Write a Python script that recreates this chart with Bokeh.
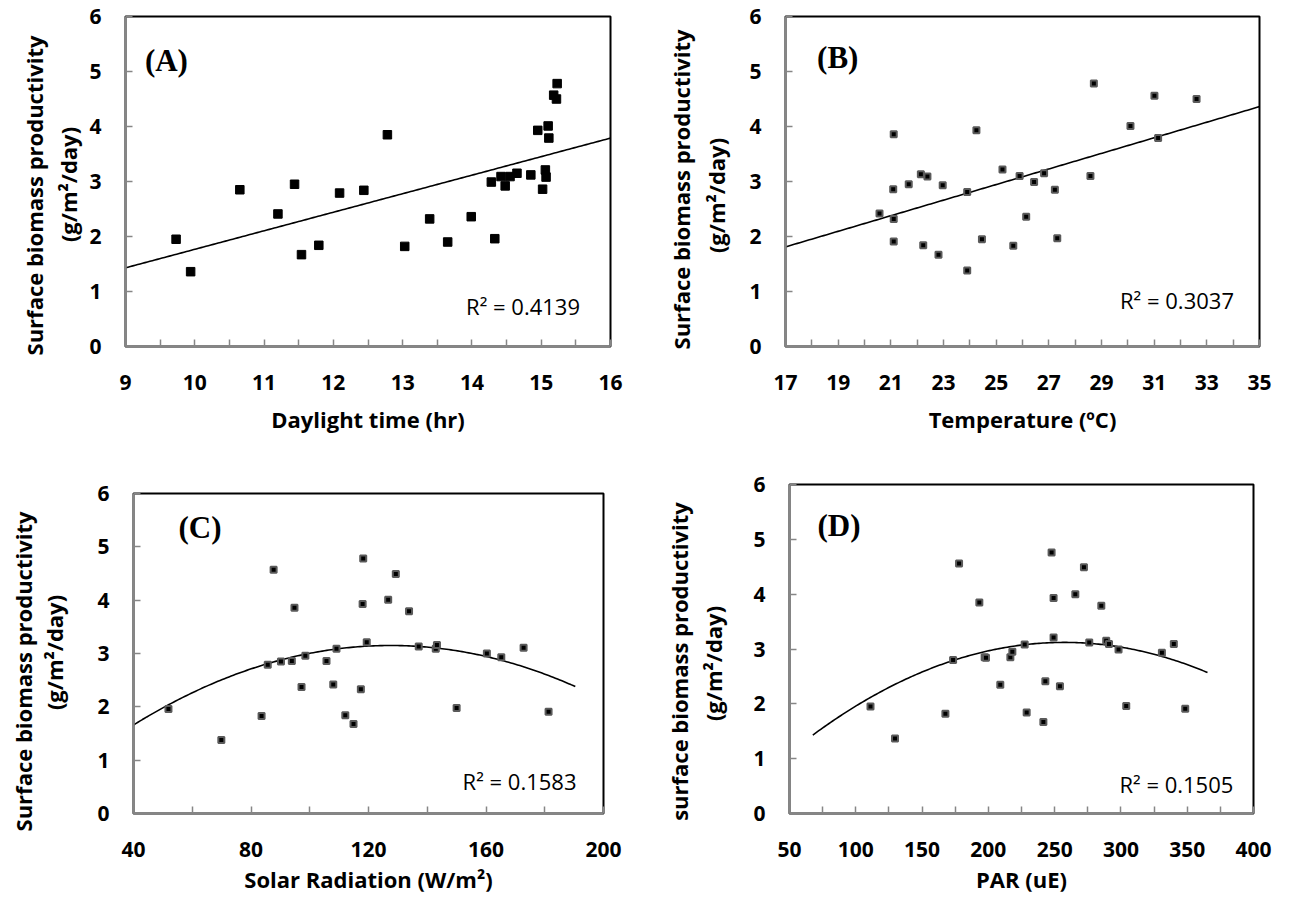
import numpy as np
from bokeh.plotting import figure
from bokeh.models import FixedTicker, Label
from bokeh.layouts import column, row
from bokeh.core.properties import value
from bokeh.embed import file_html
from bokeh.resources import INLINE

# ---------------- data ----------------
daylight_hr = [9.73, 9.94, 10.65, 11.20, 11.44, 11.54, 11.79, 12.09, 12.44, 12.78,
               13.03, 13.39, 13.65, 13.99, 14.28, 14.33, 14.42, 14.48, 14.55, 14.65,
               14.85, 14.95, 15.02, 15.06, 15.07, 15.10, 15.11, 15.18, 15.22, 15.23]
prod_a = [1.95, 1.36, 2.85, 2.41, 2.95, 1.67, 1.84, 2.79, 2.84, 3.85,
          1.82, 2.32, 1.90, 2.36, 2.99, 1.96, 3.09, 2.92, 3.09, 3.15,
          3.12, 3.93, 2.86, 3.21, 3.08, 4.01, 3.79, 4.57, 4.50, 4.78]

temperature_c = [20.57, 21.11, 21.09, 21.11, 21.11, 21.68, 22.14, 22.39, 22.23, 22.81,
                 22.97, 23.90, 23.90, 24.25, 24.46, 25.24, 25.65, 25.89, 26.14, 26.44,
                 26.82, 27.23, 27.32, 28.58, 28.71, 30.10, 31.01, 31.15, 32.61]
prod_b = [2.42, 3.86, 2.86, 2.32, 1.91, 2.95, 3.13, 3.09, 1.84, 1.67,
          2.93, 2.81, 1.38, 3.93, 1.95, 3.22, 1.83, 3.10, 2.36, 2.99,
          3.15, 2.85, 1.97, 3.10, 4.78, 4.01, 4.56, 3.79, 4.50]

solar_wm2 = [51.9, 69.9, 83.6, 85.7, 87.7, 90.2, 93.9, 94.8, 97.2, 98.5,
             105.7, 108.0, 109.1, 112.1, 114.9, 117.4, 118.0, 118.2, 119.4, 126.7,
             129.3, 133.8, 137.1, 142.9, 143.3, 150.0, 160.3, 165.2, 172.8, 181.3]
prod_c = [1.96, 1.38, 1.83, 2.79, 4.57, 2.85, 2.86, 3.86, 2.37, 2.96,
          2.86, 2.42, 3.09, 1.84, 1.68, 2.33, 3.93, 4.78, 3.21, 4.01,
          4.49, 3.79, 3.13, 3.09, 3.16, 1.98, 3.00, 2.93, 3.11, 1.91]

par_ue = [111.1, 129.6, 167.6, 173.4, 177.9, 193.2, 197.2, 198.2, 209.0, 216.6,
          218.1, 227.4, 228.9, 241.5, 243.0, 247.7, 249.2, 249.2, 254.0, 265.6,
          272.1, 276.1, 285.2, 288.9, 291.0, 298.2, 304.0, 330.9, 339.9, 348.5]
prod_d = [1.95, 1.37, 1.82, 2.80, 4.56, 3.85, 2.85, 2.84, 2.35, 2.85,
          2.95, 3.08, 1.84, 1.67, 2.41, 4.76, 3.21, 3.93, 2.32, 4.00,
          4.49, 3.12, 3.79, 3.15, 3.09, 2.99, 1.96, 2.93, 3.09, 1.91]

# trend lines: polynomial coefficients (highest power first)
trend_a = [0.337, -1.603]
trend_b = [0.1417, -0.598]
trend_c = [-1.946e-4, 0.049623, -0.0134]     # peak ~3.15 at ~127.5
trend_d = [-4.70e-5, 0.024177, 0.011]        # peak ~3.12 at ~257
trend_span = [(9, 16), (17, 35), (40, 190.4), (67.6, 365.3)]

r2_texts = ["R\u00b2 = 0.4139", "R\u00b2 = 0.3037", "R\u00b2 = 0.1583", "R\u00b2 = 0.1505"]
panel_tags = ["(A)", "(B)", "(C)", "(D)"]
x_titles = ["Daylight time (hr)", "Temperature (\u00baC)", "Solar Radiation (W/m\u00b2)", "PAR (uE)"]
y_title_line1 = ["Surface biomass productivity", "Surface biomass productivity",
                 "Surface biomass productivity", "surface biomass productivity"]
y_title_line2 = "(g/m\u00b2/day)"

x_ranges = [(9, 16), (17, 35), (40, 200), (50, 400)]
x_label_ticks = [list(range(9, 17)), list(range(17, 36, 2)), [40, 80, 120, 160, 200],
                 list(range(50, 401, 50))]
x_minor_ticks = [[9.5 + i for i in range(7)], list(range(18, 35, 2)),
                 [60, 100, 140, 180], list(range(75, 400, 50))]
y_ticks = [0, 1, 2, 3, 4, 5, 6]

FONT = "Open Sans"
GRAY = "#868686"


def title_strip(i, page_left, width, height, page_top, pos):
    """Narrow borderless figure holding the two-line rotated y title; data units = page pixels."""
    t = figure(width=width, height=height, x_range=(page_left, page_left + width),
               y_range=(page_top + height, page_top), output_backend="svg",
               toolbar_location=None, x_axis_location=None, y_axis_location=None,
               min_border=0, min_border_left=0, min_border_right=0,
               min_border_top=0, min_border_bottom=0)
    t.grid.visible = False
    t.outline_line_color = None
    t.background_fill_color = "white"
    t.border_fill_color = "white"
    (x1, y1), (x2, y2) = pos
    t.text(x=[x1, x2], y=[y1, y2], text=[y_title_line1[i], y_title_line2],
           angle=np.pi / 2, text_align="center", text_baseline="middle",
           text_font=value(FONT), text_font_style="bold", text_font_size="22px",
           text_color="black")
    return column(t)


def panel(i, xs, ys, trend, width, height, bl, br, bt, bb, tag_xy, r2_xy, solid):
    p = figure(width=width, height=height, x_range=x_ranges[i], y_range=(0, 6),
               output_backend="svg", toolbar_location=None,
               min_border_left=bl, min_border_right=br,
               min_border_top=bt, min_border_bottom=bb)
    p.grid.visible = False
    p.outline_line_color = "black"
    p.outline_line_width = 2
    p.background_fill_color = "white"
    p.border_fill_color = "white"

    p.xaxis.ticker = FixedTicker(ticks=x_label_ticks[i], minor_ticks=x_minor_ticks[i])
    p.yaxis.ticker = FixedTicker(ticks=y_ticks)
    for ax in (p.xaxis, p.yaxis):
        ax.axis_line_color = GRAY
        ax.axis_line_width = 2.5
        ax.major_tick_line_color = GRAY
        ax.minor_tick_line_color = GRAY
        ax.major_tick_line_width = 1.5
        ax.minor_tick_line_width = 1.5
        ax.major_tick_in = 7
        ax.major_tick_out = 0
        ax.minor_tick_in = 7
        ax.minor_tick_out = 0
        ax.major_label_text_font = FONT
        ax.major_label_text_font_style = "bold"
        ax.major_label_text_font_size = "21px"
        ax.major_label_text_color = "black"
        ax.axis_label_text_font = FONT
        ax.axis_label_text_font_style = "bold"
        ax.axis_label_text_font_size = "22px"
        ax.axis_label_text_color = "black"
    p.yaxis.minor_tick_line_color = None
    p.xaxis.axis_label = x_titles[i]
    p.xaxis.major_label_standoff = 28
    p.xaxis.axis_label_standoff = 11 if i < 2 else 4
    p.yaxis.major_label_standoff = 24

    tx = np.linspace(trend_span[i][0], trend_span[i][1], 200)
    p.line(tx, np.polyval(trend, tx), line_color="black", line_width=1.6)

    if solid:
        p.scatter(xs, ys, marker="square", size=8.5, fill_color="black", line_color="black")
    else:
        p.scatter(xs, ys, marker="square", size=6, fill_color="black",
                  line_color="#5a5a5a", line_width=2)

    p.add_layout(Label(x=tag_xy[0], y=tag_xy[1], text=panel_tags[i],
                       text_font="Liberation Serif", text_font_style="bold",
                       text_font_size="31px", text_baseline="middle", text_align="left",
                       text_color="black"))
    p.add_layout(Label(x=r2_xy[0], y=r2_xy[1], text=r2_texts[i],
                       text_font=FONT, text_font_size="22px",
                       text_baseline="middle", text_align="right", text_color="black"))
    return p


# top row (page y 0..448)
ta = title_strip(0, 0, 86, 448, 0, ((33, 195), (67, 184)))
pa = panel(0, daylight_hr, prod_a, trend_a, 562, 448, 38, 38, 16, 102,
           (9.28, 5.2), (15.56, 0.73), True)
tb = title_strip(1, 648, 86, 448, 0, ((680, 189), (715, 195)))
pb = panel(1, temperature_c, prod_b, trend_b, 551, 448, 51, 26, 16, 102,
           (18.2, 5.26), (34.03, 0.85), False)

# bottom row (page y 448..905)
tc = title_strip(2, 0, 84, 457, 448, ((22, 671), (53, 652)))
pc = panel(2, solar_wm2, prod_c, trend_c, 564, 457, 49, 45, 45, 92,
           (55.3, 5.37), (190.8, 0.61), False)
td = title_strip(3, 648, 84, 457, 448, ((678, 661), (712, 663)))
pd = panel(3, par_ue, prod_d, trend_d, 553, 457, 57, 32, 36, 92,
           (71.1, 5.25), (384.8, 0.54), False)

layout = column(row(ta, column(pa), tb, column(pb)),
                row(tc, column(pc), td, column(pd)))
open("out.html", "w").write(file_html(layout, INLINE))
